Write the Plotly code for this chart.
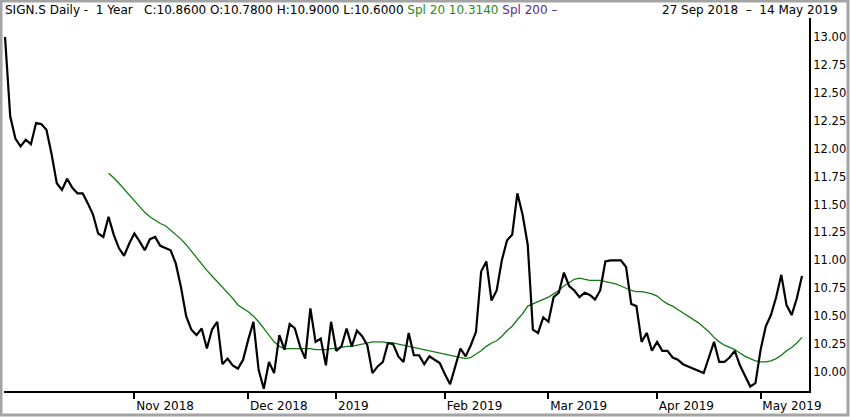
import pandas as pd
import plotly.graph_objects as go

# SIX trading days, 27 Sep 2018 - 14 May 2019
feriados = ["2018-12-24", "2018-12-25", "2018-12-26", "2018-12-31", "2019-01-01",
            "2019-01-02", "2019-04-19", "2019-04-22", "2019-05-01"]
datas = pd.bdate_range("2018-09-27", "2019-05-14", freq="C", holidays=feriados)
dias = list(datas.strftime("%Y-%m-%d"))

# fechamento diario
fechamento = [
    13.00, 12.29, 12.09, 12.02, 12.08, 12.04, 12.23, 12.22, 12.17, 11.95,
    11.69, 11.63, 11.73, 11.65, 11.60, 11.60, 11.51, 11.41, 11.24, 11.21,
    11.39, 11.23, 11.11, 11.04, 11.15, 11.24, 11.17, 11.09, 11.19, 11.21,
    11.13, 11.11, 11.09, 10.97, 10.76, 10.50, 10.38, 10.33, 10.39, 10.21,
    10.38, 10.45, 10.07, 10.12, 10.06, 10.03, 10.11, 10.29, 10.45, 10.02,
    9.85, 10.09, 9.99, 10.33, 10.20, 10.43, 10.39, 10.23, 10.12, 10.57,
    10.27, 10.30, 10.06, 10.45, 10.19, 10.23, 10.39, 10.23, 10.37, 10.32,
    10.24, 9.99, 10.05, 10.09, 10.26, 10.25, 10.14, 10.09, 10.35, 10.15,
    10.15, 10.07, 10.14, 10.11, 10.08, 9.98, 9.89, 10.05, 10.21, 10.14,
    10.24, 10.36, 10.90, 10.99, 10.64, 10.73, 11.00, 11.18, 11.23, 11.60,
    11.41, 11.14, 10.38, 10.35, 10.49, 10.45, 10.67, 10.71, 10.89, 10.77,
    10.73, 10.67, 10.71, 10.69, 10.65, 10.73, 10.99, 11.00, 11.00, 11.00,
    10.94, 10.61, 10.59, 10.27, 10.35, 10.19, 10.27, 10.19, 10.19, 10.13,
    10.11, 10.07, 10.05, 10.03, 10.01, 9.99, 10.13, 10.27, 10.09, 10.09,
    10.13, 10.19, 10.06, 9.97, 9.87, 9.90, 10.20, 10.41, 10.51, 10.67,
    10.87, 10.60, 10.51, 10.66, 10.86,
]

# linha verde Spl 20 (comeca no 21o dia)
spl20 = [None] * 20 + [
    11.78, 11.74, 11.69, 11.64, 11.59, 11.54, 11.48, 11.43, 11.39, 11.36,
    11.33, 11.31, 11.27, 11.23, 11.19, 11.14, 11.08, 11.02, 10.97, 10.91,
    10.86, 10.81, 10.76, 10.71, 10.66, 10.60, 10.57, 10.54, 10.50, 10.45,
    10.39, 10.33, 10.27, 10.23, 10.21, 10.21, 10.21, 10.21, 10.21, 10.21,
    10.20, 10.20, 10.20, 10.21, 10.21, 10.22, 10.23, 10.23, 10.24, 10.25,
    10.26, 10.27, 10.27, 10.27, 10.26, 10.26, 10.25, 10.24, 10.23, 10.22,
    10.21, 10.20, 10.19, 10.18, 10.17, 10.16, 10.15, 10.14, 10.13, 10.12,
    10.13, 10.16, 10.19, 10.23, 10.26, 10.28, 10.32, 10.37, 10.41, 10.47,
    10.52, 10.59, 10.61, 10.63, 10.65, 10.67, 10.70, 10.73, 10.77, 10.80,
    10.83, 10.84, 10.83, 10.82, 10.82, 10.82, 10.81, 10.80, 10.79, 10.77,
    10.75, 10.73, 10.72, 10.72, 10.71, 10.70, 10.68, 10.64, 10.61, 10.59,
    10.56, 10.53, 10.50, 10.47, 10.44, 10.40, 10.36, 10.31, 10.27, 10.24,
    10.22, 10.20, 10.17, 10.14, 10.12, 10.10, 10.09, 10.09, 10.10, 10.12,
    10.15, 10.19, 10.22, 10.26, 10.31,
]

ticks_mes = ["2018-11-01", "2018-12-03", "2019-01-03", "2019-02-01",
             "2019-03-01", "2019-04-01", "2019-05-02"]
rotulos_mes = ["Nov 2018", "Dec 2018", "2019", "Feb 2019", "Mar 2019", "Apr 2019", "May 2019"]

fonte = "DejaVu Sans"

fig = go.Figure()
fig.add_trace(go.Scatter(x=dias, y=spl20, mode="lines",
                         line=dict(color="#137a13", width=1.3), hoverinfo="skip"))
fig.add_trace(go.Scatter(x=dias, y=fechamento, mode="lines",
                         line=dict(color="black", width=2.2)))

cabecalho = ("SIGN.S Daily -\u00a0 1 Year\u00a0\u00a0 C:10.8600 O:10.7800 H:10.9000 L:10.6000 "
             "<span style='color:#1e8c1e'>Spl 20 10.3140</span> "
             "<span style='color:#5b2a86'>Spl 200 \u2013</span>")

fig.update_layout(
    width=850, height=417,
    margin=dict(l=4, r=41, t=18, b=26),
    paper_bgcolor="white", plot_bgcolor="white",
    showlegend=False,
    font=dict(family=fonte, size=12, color="black"),
    xaxis=dict(type="category", range=[-0.2, 155.35],
               tickmode="array", tickvals=ticks_mes, ticktext=rotulos_mes,
               ticklabelposition="outside right", ticklabelstandoff=3,
               ticks="outside", ticklen=6, tickwidth=1.5, tickcolor="black",
               showline=True, linecolor="black", linewidth=2,
               showgrid=False, zeroline=False,
               tickfont=dict(size=12)),
    yaxis=dict(side="right", range=[9.83, 13.17], dtick=0.25, tick0=10,
               tickformat=".2f", ticks="", showline=True, linecolor="black",
               linewidth=2, showgrid=False, zeroline=False,
               tickfont=dict(size=11.5)),
    annotations=[
        dict(text=cabecalho, xref="paper", yref="paper", x=-0.0012, y=1.0214,
             xanchor="left", yanchor="middle", showarrow=False,
             font=dict(size=12, family=fonte, color="black")),
        dict(text="27 Sep 2018\u00a0 \u2013\u00a0 14 May 2019", xref="paper", yref="paper",
             x=1.0385, y=1.0214, xanchor="right", yanchor="middle", showarrow=False,
             font=dict(size=12, family=fonte, color="black")),
    ],
    shapes=[
        dict(type="rect", xref="paper", yref="paper",
             x0=-3 / 805, x1=844 / 805, y0=-24 / 373, y1=390 / 373,
             line=dict(color="#a4a4a4", width=3)),
    ],
)

# tirar a margem padrao do body para a figura ficar no canto
fig.write_html("out.html", config={"displayModeBar": False},
               post_script="document.body.style.margin='0px';document.body.style.overflow='hidden';")
